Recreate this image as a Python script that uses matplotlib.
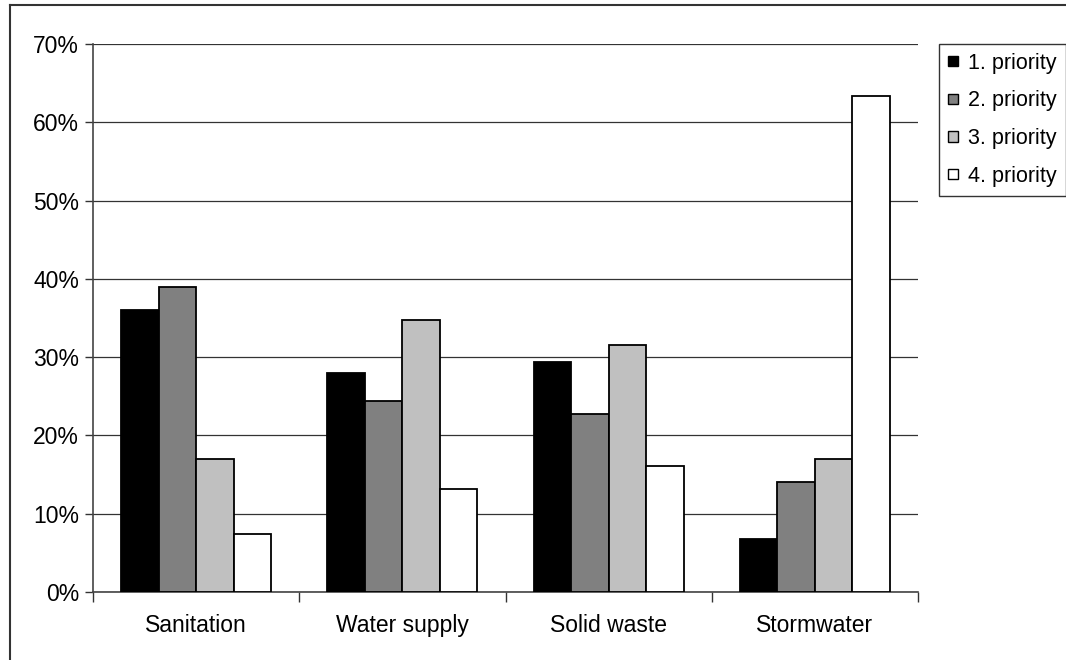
import numpy as np
import matplotlib
matplotlib.use("Agg")
import matplotlib.pyplot as plt
from matplotlib.patches import Patch
from matplotlib.lines import Line2D

# data (share of respondents)
categories = ["Sanitation", "Water supply", "Solid waste", "Stormwater"]
priority_1 = [36.0, 28.0, 29.4, 6.8]
priority_2 = [38.9, 24.4, 22.8, 14.1]
priority_3 = [17.0, 34.7, 31.5, 17.0]
priority_4 = [7.4, 13.2, 16.1, 63.3]
series_labels = ["1. priority", "2. priority", "3. priority", "4. priority"]
colors = ["#000000", "#808080", "#c0c0c0", "#ffffff"]

plt.rcParams['font.family'] = ['Liberation Sans', 'DejaVu Sans']

def main():
    fig = plt.figure(figsize=(10.66, 6.6), dpi=100)
    ax = fig.add_axes([93 / 1066, 1 - 592 / 660, (918 - 93) / 1066, (592 - 44) / 660])

    series = [priority_1, priority_2, priority_3, priority_4]
    x = np.arange(len(categories))
    width = 1 / 5.5  # excel gap width 150%
    for i, (vals, col) in enumerate(zip(series, colors)):
        ax.bar(x + (i - 1.5) * width, vals, width, color=col,
               edgecolor='black', linewidth=1.3, zorder=3)

    ax.set_xlim(-0.5, len(categories) - 0.5)
    ax.set_ylim(0, 70)
    ax.set_yticks(np.arange(0, 71, 10))
    ax.set_yticklabels([f"{v}%" for v in range(0, 71, 10)])
    ax.yaxis.grid(True, color='#333333', linewidth=0.9, zorder=0)

    ax.set_xticks(x)
    ax.set_xticklabels(categories)
    ax.set_xticks(np.arange(-0.5, len(categories)), minor=True)
    ax.tick_params(axis='x', which='major', length=0, pad=16, labelsize=16.5)
    ax.tick_params(axis='x', which='minor', length=7, width=1, color='#333333')
    ax.tick_params(axis='y', length=6, width=1, color='#333333', pad=4, labelsize=16.5)

    for side in ['top', 'right']:
        ax.spines[side].set_visible(False)
    ax.spines['left'].set_color('#444444')
    ax.spines['bottom'].set_color('#444444')
    ax.spines['left'].set_linewidth(1.2)
    ax.spines['bottom'].set_linewidth(1.2)

    handles = [Patch(facecolor=c, edgecolor='black', linewidth=1) for c in colors]
    leg = fig.legend(handles, series_labels, loc='upper left',
                     bbox_to_anchor=(939 / 1066, 1 - 44 / 660),
                     bbox_transform=fig.transFigure, borderaxespad=0,
                     fontsize=15.5, frameon=True, fancybox=False,
                     handlelength=0.46, handleheight=0.36, handletextpad=0.5,
                     labelspacing=0.78, borderpad=0.4)
    leg.get_frame().set_edgecolor('black')
    leg.get_frame().set_linewidth(1)

    # outer chart border
    fig.add_artist(Line2D([10 / 1066, 10 / 1066], [0, 1 - 5 / 660],
                          transform=fig.transFigure, color='#333333', linewidth=1.5))
    fig.add_artist(Line2D([10 / 1066, 1], [1 - 5 / 660, 1 - 5 / 660],
                          transform=fig.transFigure, color='#333333', linewidth=1.5))

    fig.savefig('out.png', dpi=100)

if __name__ == "__main__":
    main()
